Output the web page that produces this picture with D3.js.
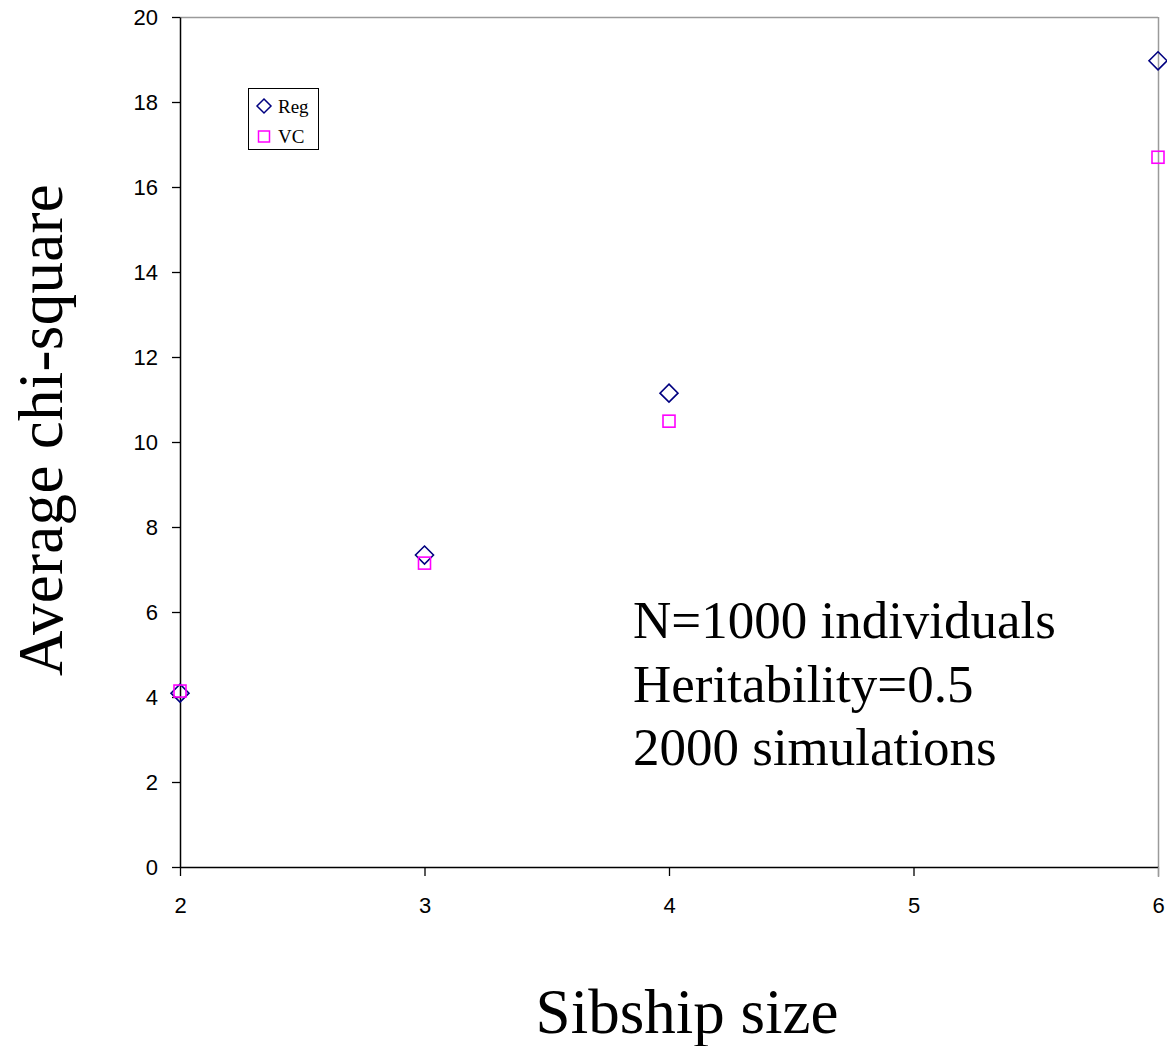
<!DOCTYPE html>
<html>
<head>
<meta charset="utf-8">
<script src="https://cdn.jsdelivr.net/npm/d3@7"></script>
<style>
  html, body { margin: 0; padding: 0; background: #fff; }
</style>
</head>
<body>
<svg id="chart" width="1167" height="1046"></svg>
<script>
// Sibship sizes and average chi-square per method
const sibshipSizes = [2, 3, 4, 6];
const regValues = [4.09, 7.34, 11.15, 18.97];
const vcValues = [4.14, 7.15, 10.49, 16.70];
const xTicks = [2, 3, 4, 5, 6];
const yTicks = [0, 2, 4, 6, 8, 10, 12, 14, 16, 18, 20];
const notes = ["N=1000 individuals", "Heritability=0.5", "2000 simulations"];

const svg = d3.select("#chart");
const plotLeft = 180, plotRight = 1158, plotTop = 17, plotBottom = 867;

const x = d3.scaleLinear().domain([2, 6]).range([plotLeft, plotRight]);
const y = d3.scaleLinear().domain([0, 20]).range([plotBottom, plotTop]);

// frame: top and right edges in grey
svg.append("line").attr("x1", plotLeft).attr("x2", plotRight).attr("y1", plotTop + 0.5).attr("y2", plotTop + 0.5)
  .attr("stroke", "#9a9a9a").attr("stroke-width", 1.5);
svg.append("line").attr("x1", plotRight + 0.5).attr("x2", plotRight + 0.5).attr("y1", plotTop).attr("y2", plotBottom + 10)
  .attr("stroke", "#9a9a9a").attr("stroke-width", 1.5);

// y axis
const yAxis = svg.append("g").attr("transform", `translate(${plotLeft},0)`)
  .call(d3.axisLeft(y).tickValues(yTicks).tickFormat(d3.format("d")).tickSize(8).tickPadding(14).tickSizeOuter(0));
yAxis.select(".domain").attr("stroke", "#000").attr("stroke-width", 1.5);
yAxis.selectAll(".tick line").attr("stroke", "#000").attr("stroke-width", 1.3);
yAxis.selectAll(".tick text").attr("font-family", "'Liberation Sans', Arial, sans-serif")
  .attr("font-size", 22).attr("fill", "#000");

// x axis
const xAxis = svg.append("g").attr("transform", `translate(0,${plotBottom})`)
  .call(d3.axisBottom(x).tickValues(xTicks).tickFormat(d3.format("d")).tickSize(9).tickPadding(21).tickSizeOuter(0));
xAxis.select(".domain").attr("stroke", "#000").attr("stroke-width", 1.5);
xAxis.selectAll(".tick line").attr("stroke", "#000").attr("stroke-width", 1.3);
xAxis.selectAll(".tick text").attr("font-family", "'Liberation Sans', Arial, sans-serif")
  .attr("font-size", 22).attr("fill", "#000");
// the rightmost tick sits on the grey frame edge
xAxis.selectAll(".tick").filter(d => d === 6).select("line").attr("stroke", "#9a9a9a");

// markers
const diamond = (cx, cy, r) => `M${cx},${cy - r}L${cx + r},${cy}L${cx},${cy + r}L${cx - r},${cy}Z`;
const square = 12;

svg.append("g").selectAll("path").data(sibshipSizes.map((s, i) => [s, regValues[i]]))
  .join("path")
  .attr("d", d => diamond(x(d[0]), y(d[1]), 9))
  .attr("fill", "none").attr("stroke", "#000080").attr("stroke-width", 1.6);

svg.append("g").selectAll("rect").data(sibshipSizes.map((s, i) => [s, vcValues[i]]))
  .join("rect")
  .attr("x", d => x(d[0]) - square / 2).attr("y", d => y(d[1]) - square / 2)
  .attr("width", square).attr("height", square)
  .attr("fill", "none").attr("stroke", "#ff00ff").attr("stroke-width", 1.6);

// legend
const lg = svg.append("g");
lg.append("rect").attr("x", 248.5).attr("y", 88.5).attr("width", 70).attr("height", 61)
  .attr("fill", "#fff").attr("stroke", "#000").attr("stroke-width", 1);
lg.append("path").attr("d", diamond(264, 106, 7))
  .attr("fill", "none").attr("stroke", "#000080").attr("stroke-width", 1.5);
lg.append("rect").attr("x", 258.5).attr("y", 131).attr("width", 11).attr("height", 11)
  .attr("fill", "none").attr("stroke", "#ff00ff").attr("stroke-width", 1.5);
lg.append("text").attr("x", 278).attr("y", 113).text("Reg")
  .attr("font-family", "'Liberation Serif', 'Times New Roman', serif").attr("font-size", 19);
lg.append("text").attr("x", 278).attr("y", 143).text("VC")
  .attr("font-family", "'Liberation Serif', 'Times New Roman', serif").attr("font-size", 19);

// annotation
svg.append("g").selectAll("text").data(notes).join("text")
  .attr("x", 633).attr("y", (d, i) => 638 + i * 63.5)
  .attr("font-family", "'Liberation Serif', 'Times New Roman', serif")
  .attr("font-size", 53).attr("fill", "#000").text(d => d);

// axis titles
svg.append("text").attr("x", 687).attr("y", 1033).attr("text-anchor", "middle")
  .attr("font-family", "'Liberation Serif', 'Times New Roman', serif").attr("font-size", 63)
  .text("Sibship size");
svg.append("text").attr("transform", "translate(62,430) rotate(-90)").attr("text-anchor", "middle")
  .attr("font-family", "'Liberation Serif', 'Times New Roman', serif").attr("font-size", 63)
  .attr("letter-spacing", 0.3)
  .text("Average chi-square");
</script>
</body>
</html>
